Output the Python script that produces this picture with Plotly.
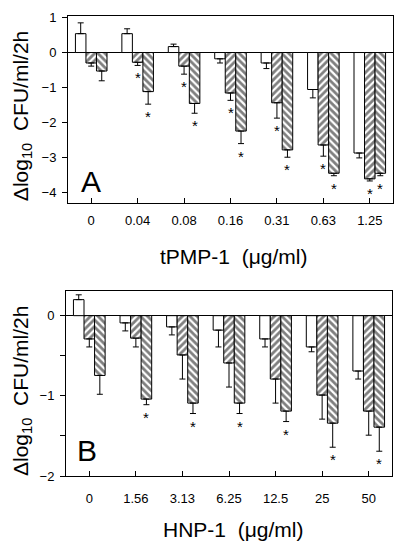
import plotly.graph_objects as go

# ---------------- data ----------------
cats_A = ["0", "0.04", "0.08", "0.16", "0.31", "0.63", "1.25"]
white_A = [0.54, 0.54, 0.17, -0.18, -0.30, -1.06, -2.88]
white_A_err = [0.31, 0.14, 0.07, 0.12, 0.16, 0.24, 0.14]
h1_A = [-0.30, -0.28, -0.39, -1.16, -1.44, -2.65, -3.62]
h1_A_err = [0.09, 0.09, 0.23, 0.21, 0.44, 0.32, 0.06]
h2_A = [-0.53, -1.12, -1.46, -2.25, -2.79, -3.46, -3.46]
h2_A_err = [0.28, 0.36, 0.28, 0.36, 0.21, 0.07, 0.07]
sig_h1_A = [0, 1, 1, 1, 1, 1, 1]
sig_h2_A = [0, 1, 1, 1, 1, 1, 1]

cats_B = ["0", "1.56", "3.13", "6.25", "12.5", "25", "50"]
white_B = [0.20, -0.09, -0.14, -0.18, -0.29, -0.39, -0.69]
white_B_err = [0.06, 0.10, 0.10, 0.21, 0.10, 0.06, 0.10]
h1_B = [-0.29, -0.28, -0.49, -0.59, -0.79, -0.99, -1.19]
h1_B_err = [0.10, 0.11, 0.30, 0.30, 0.30, 0.30, 0.30]
h2_B = [-0.745, -1.04, -1.09, -1.09, -1.19, -1.34, -1.39]
h2_B_err = [0.235, 0.07, 0.13, 0.13, 0.13, 0.30, 0.30]
sig_h1_B = [0, 0, 0, 0, 0, 0, 0]
sig_h2_B = [0, 1, 1, 1, 1, 1, 1]

yticks_A = [1, 0, -1, -2, -3, -4]
yticks_B = [0, -1, -2]
yminor_B = [-0.5, -1.5]

FONT = "Liberation Sans, Arial, sans-serif"
BARGAP = 0.32
W, H = 400, 553
XDOM_A = [68 / W, 393 / W]
XDOM_B = [66 / W, 392 / W]

fig = go.Figure()
annotations = []


def err_dict(vals, errs):
    return dict(
        type="data", symmetric=False,
        array=[e if v > 0 else 0 for v, e in zip(vals, errs)],
        arrayminus=[e if v < 0 else 0 for v, e in zip(vals, errs)],
        color="black", thickness=1, width=3,
    )


def add_panel(cats, series, xa, ya, xdom):
    ncat = len(cats)
    bar_px = (xdom[1] - xdom[0]) * W / ncat * (1 - BARGAP) / len(series)
    for k, (name, vals, errs, shape, sig) in enumerate(series):
        pat = dict(shape=shape, size=5, solidity=0.55, fgcolor="black",
                   bgcolor="white") if shape else None
        fig.add_trace(go.Bar(
            x=cats, y=vals, name=name, offsetgroup=name,
            marker=dict(color="white", line=dict(color="black", width=1),
                        pattern=pat),
            error_y=err_dict(vals, errs),
            xaxis=xa, yaxis=ya, showlegend=False, hoverinfo="skip",
        ))
        shift = (k - (len(series) - 1) / 2) * bar_px
        for i, (v, e, s) in enumerate(zip(vals, errs, sig)):
            if s:
                annotations.append(dict(
                    text="*", x=i, y=v - e, xref=xa, yref=ya,
                    xshift=shift, yshift=-2, showarrow=False,
                    xanchor="center", yanchor="top",
                    font=dict(family=FONT, size=15, color="black"),
                ))


add_panel(cats_A, [
    ("w", white_A, white_A_err, None, [0] * 7),
    ("h1", h1_A, h1_A_err, "/", sig_h1_A),
    ("h2", h2_A, h2_A_err, "\\", sig_h2_A),
], "x", "y", XDOM_A)
add_panel(cats_B, [
    ("w", white_B, white_B_err, None, [0] * 7),
    ("h1", h1_B, h1_B_err, "/", sig_h1_B),
    ("h2", h2_B, h2_B_err, "\\", sig_h2_B),
], "x2", "y2", XDOM_B)

axis_common = dict(showline=True, linecolor="black", linewidth=1, mirror=True,
                   showgrid=False, tickfont=dict(family=FONT, size=13, color="black"))

fig.update_layout(
    width=W, height=H, autosize=False,
    margin=dict(l=0, r=0, t=0, b=0),
    paper_bgcolor="white", plot_bgcolor="white",
    barmode="group", bargap=BARGAP, bargroupgap=0,
    xaxis=dict(domain=XDOM_A, anchor="y", type="category", ticks="inside",
               ticklen=5, tickcolor="black", ticklabelstandoff=6, **axis_common),
    yaxis=dict(domain=[1 - 201.7 / H, 1 - 10.7 / H], anchor="x",
               range=[-4.30, 1.034], tickvals=yticks_A, ticks="outside",
               ticklen=5, tickcolor="black", ticklabelstandoff=3,
               zeroline=True, zerolinecolor="black", zerolinewidth=1,
               **axis_common),
    xaxis2=dict(domain=XDOM_B, anchor="y2", type="category", ticks="inside",
                ticklen=5, tickcolor="black", ticklabelstandoff=10, **axis_common),
    yaxis2=dict(domain=[1 - 482.3 / H, 1 - 292.7 / H], anchor="x2",
                range=[-2.0, 0.304], tickvals=yticks_B,
                minor=dict(tickvals=yminor_B, ticks="outside", ticklen=5,
                           tickcolor="black", showgrid=False),
                ticks="outside", ticklen=5, tickcolor="black",
                ticklabelstandoff=3, zeroline=True, zerolinecolor="black",
                zerolinewidth=1, **axis_common),
    font=dict(family=FONT, color="black"),
)

ytitle = "Δlog<sub>10</sub>  CFU/ml/2h"
ann = [
    dict(text="A", x=91 / W, y=1 - 180 / H, font=dict(size=30)),
    dict(text="B", x=87 / W, y=1 - 456 / H, font=dict(size=30)),
    dict(text=ytitle, x=22 / W, y=1 - 113 / H, textangle=-90,
         font=dict(size=21)),
    dict(text=ytitle, x=22 / W, y=1 - 395 / H, textangle=-90,
         font=dict(size=21)),
    dict(text="tPMP-1  (μg/ml)", x=233 / W, y=1 - 257 / H,
         font=dict(size=21)),
    dict(text="HNP-1  (μg/ml)", x=233 / W, y=1 - 537 / H,
         font=dict(size=21)),
]
for a in ann:
    a.update(xref="paper", yref="paper", showarrow=False,
             xanchor="center", yanchor="middle")
    a["font"].update(family=FONT, color="black")
fig.update_layout(annotations=ann + annotations)

fig.write_html("out.html", config={"displayModeBar": False},
               post_script="document.body.style.margin='0';")
